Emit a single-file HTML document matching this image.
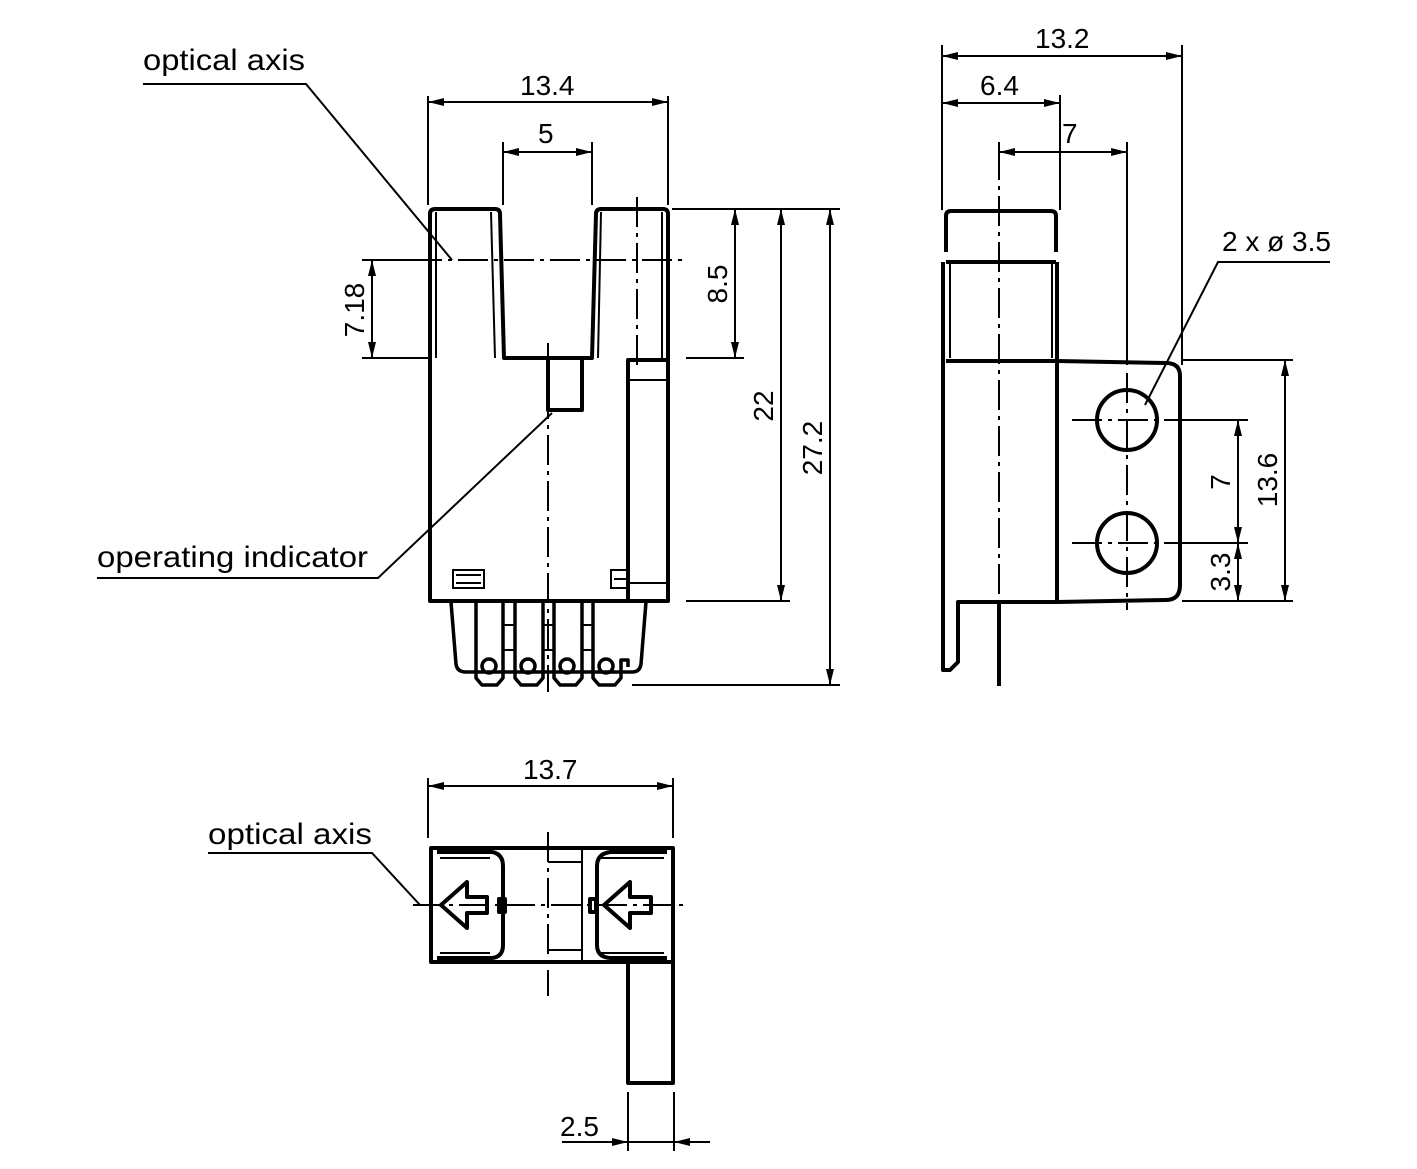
<!DOCTYPE html>
<html><head><meta charset="utf-8"><style>
html,body{margin:0;padding:0;background:#fff;}
svg{display:block;}
text{font-family:"Liberation Sans",Arial,sans-serif;font-size:28px;fill:#000;}
text.lbl{font-size:30px;}
</style></head><body>
<svg width="1417" height="1169" viewBox="0 0 1417 1169" xmlns="http://www.w3.org/2000/svg">
<defs>
<marker id="a" viewBox="0 0 16 8" refX="16" refY="4" markerWidth="16" markerHeight="8" markerUnits="userSpaceOnUse" orient="auto-start-reverse">
<path d="M0,0 L16,4 L0,8 z" fill="#000"/></marker>
</defs>
<g fill="none" stroke="#000">
<!-- ===== FRONT VIEW ===== -->
<g stroke-width="4" stroke-linejoin="round">
<path d="M430,601 L430,214 Q430,209 435,209 L495,209 Q500,209 500,214 L504,358 L592,358 L596,214 Q596,209 601,209 L663,209 Q668,209 668,214 L668,601 Z"/>
<path d="M628,601 L628,360 L668,360"/>
<path d="M548,360 L548,410 L582,410 L582,360"/>
</g>
<g stroke-width="2">
<path d="M491,212 L495,358"/><path d="M601,212 L598,358"/><path d="M662,212 L662,358"/>
<path d="M436,212 L436,358"/>
<path d="M630,380 L668,380 M630,583 L668,583"/>
<rect x="453" y="570" width="31" height="18"/><path d="M456,575 L481,575 M456,583 L481,583"/>
<rect x="611" y="570" width="17" height="18"/><path d="M614,579 L628,579"/>
</g>
<g stroke-width="3.5" stroke-linejoin="round">
<path d="M451,602 L456,664 Q457,672 466,672 L632,672 Q640,672 641,664 L646,602"/>
<path d="M476,602 L476,678 L482,685 L497,685 L503,678 L503,602"/>
<path d="M515,602 L515,678 L521,685 L537,685 L543,678 L543,602"/>
<path d="M554,602 L554,678 L560,685 L576,685 L582,678 L582,602"/>
<path d="M593,602 L593,678 L599,685 L615,685 L621,678 L621,660 L628,660 L628,667"/>
<circle cx="489" cy="666" r="7"/><circle cx="528" cy="666" r="7"/><circle cx="567" cy="666" r="7"/><circle cx="606" cy="666" r="7"/>
</g>
<g stroke-width="2">
<path d="M503,602 L515,602 M503,625 L515,625 M543,625 L554,625 M582,625 L593,625 M503,650 L515,650 M582,650 L593,650 M543,650 L554,650"/>
</g>
<g stroke-width="2" stroke-dasharray="30,6,4,6">
<path d="M366,260 L684,260"/>
<path d="M548,343 L548,692"/>
<path d="M637,197 L637,366"/>
</g>
<g stroke-width="2">
<path d="M428,96 L428,205 M668,96 L668,205"/>
<path d="M428,102 L668,102" marker-start="url(#a)" marker-end="url(#a)"/>
<path d="M503,142 L503,205 M592,142 L592,205"/>
<path d="M503,152 L592,152" marker-start="url(#a)" marker-end="url(#a)"/>
<path d="M362,260 L430,260 M362,358 L430,358"/>
<path d="M372,260 L372,358" marker-start="url(#a)" marker-end="url(#a)"/>
<path d="M672,209 L840,209 M686,358 L744,358 M686,601 L790,601 M632,685 L840,685"/>
<path d="M735,209 L735,358" marker-start="url(#a)" marker-end="url(#a)"/>
<path d="M781,209 L781,601" marker-start="url(#a)" marker-end="url(#a)"/>
<path d="M830,209 L830,685" marker-start="url(#a)" marker-end="url(#a)"/>
<path d="M143,84 L306,84 L452,260"/>
<path d="M97,578 L378,578 L552,413"/>
</g>
<!-- ===== SIDE VIEW ===== -->
<g stroke-width="4" stroke-linejoin="round">
<path d="M946,252 L946,216 Q946,211 951,211 L1051,211 Q1056,211 1056,216 L1056,252"/>
<path d="M943,262 L943,670 L950,670 L958,662 L958,602 L1057,602 L1166,600 Q1180,600 1180,585 L1180,376 Q1180,363 1166,363 L1057,361 L946,361"/>
<path d="M946,262 L1056,262 M1057,262 L1057,602"/>
<path d="M999,602 L999,686"/>
<circle cx="1127" cy="420" r="30"/><circle cx="1127" cy="543" r="30"/>
</g>
<g stroke-width="2">
<path d="M950,262 L950,358 M1052,262 L1052,358"/>
</g>
<g stroke-width="2" stroke-dasharray="30,6,4,6">
<path d="M999,150 L999,600"/>
<path d="M1127,373 L1127,610"/>
<path d="M1072,420 L1180,420 M1072,543 L1180,543"/>
</g>
<g stroke-width="2">
<path d="M942,45 L942,210 M1182,45 L1182,365 M1060,95 L1060,210 M1127,142 L1127,365 M999,142 L999,152"/>
<path d="M942,56 L1182,56" marker-start="url(#a)" marker-end="url(#a)"/>
<path d="M942,103 L1060,103" marker-start="url(#a)" marker-end="url(#a)"/>
<path d="M999,152 L1127,152" marker-start="url(#a)" marker-end="url(#a)"/>
<path d="M1182,360 L1293,360 M1182,601 L1293,601 M1180,420 L1248,420 M1180,543 L1248,543"/>
<path d="M1285,360 L1285,601" marker-start="url(#a)" marker-end="url(#a)"/>
<path d="M1238,420 L1238,543" marker-start="url(#a)" marker-end="url(#a)"/>
<path d="M1238,560 L1238,601" marker-end="url(#a)"/>
<path d="M1238,560 L1238,543" marker-end="url(#a)"/>
<path d="M1330,262 L1218,262 L1145,405"/>
</g>
<!-- ===== BOTTOM VIEW ===== -->
<g stroke-width="4" stroke-linejoin="round">
<rect x="431" y="848" width="242" height="114"/>
<path d="M437,852 L492,852 Q503,854 503,866 L503,945 Q503,957 492,958 L437,958"/>
<path d="M667,852 L610,852 Q597,854 597,866 L597,945 Q597,957 610,958 L667,958"/>
<path d="M628,962 L628,1083 L673,1083 L673,962"/>
<path d="M441,905 L467,882 L467,897 L487,897 L487,913 L467,913 L467,928 Z"/>
<path d="M604,905 L630,882 L630,897 L651,897 L651,913 L630,913 L630,928 Z"/>
<rect x="499" y="899" width="6" height="13"/><rect x="590" y="899" width="6" height="13"/>
</g>
<g stroke-width="2">
<path d="M548,862 L582,862 M548,950 L582,950 M582,850 L582,962"/>
<path d="M440,858 L490,858 M440,953 L490,953 M600,858 L664,858 M600,953 L664,953"/>
</g>
<g stroke-width="2" stroke-dasharray="30,6,4,6">
<path d="M413,905 L686,905"/>
<path d="M548,832 L548,996"/>
</g>
<g stroke-width="2">
<path d="M428,778 L428,838 M673,778 L673,838"/>
<path d="M428,786 L673,786" marker-start="url(#a)" marker-end="url(#a)"/>
<path d="M628,1092 L628,1151 M674,1092 L674,1151"/>
<path d="M562,1142 L628,1142" marker-end="url(#a)"/>
<path d="M710,1142 L674,1142" marker-end="url(#a)"/>
<path d="M628,1142 L674,1142"/>
<path d="M208,853 L372,853 L420,905"/>
</g>
</g>
<!-- text -->
<text class="lbl" x="143" y="70" textLength="162" lengthAdjust="spacingAndGlyphs">optical axis</text>
<text class="lbl" x="97" y="567" textLength="271" lengthAdjust="spacingAndGlyphs">operating indicator</text>
<text x="520" y="95">13.4</text>
<text x="538" y="143">5</text>
<text transform="translate(364,310) rotate(-90)" text-anchor="middle">7.18</text>
<text transform="translate(727,284) rotate(-90)" text-anchor="middle">8.5</text>
<text transform="translate(773,406) rotate(-90)" text-anchor="middle">22</text>
<text transform="translate(822,448) rotate(-90)" text-anchor="middle">27.2</text>
<text x="1035" y="48">13.2</text>
<text x="980" y="95">6.4</text>
<text x="1062" y="143">7</text>
<text x="1222" y="251">2 x ø 3.5</text>
<text transform="translate(1277,480) rotate(-90)" text-anchor="middle">13.6</text>
<text transform="translate(1230,482) rotate(-90)" text-anchor="middle">7</text>
<text transform="translate(1230,572) rotate(-90)" text-anchor="middle">3.3</text>
<text x="523" y="779">13.7</text>
<text class="lbl" x="208" y="844" textLength="164" lengthAdjust="spacingAndGlyphs">optical axis</text>
<text x="560" y="1136">2.5</text>
</svg>
</body></html>
